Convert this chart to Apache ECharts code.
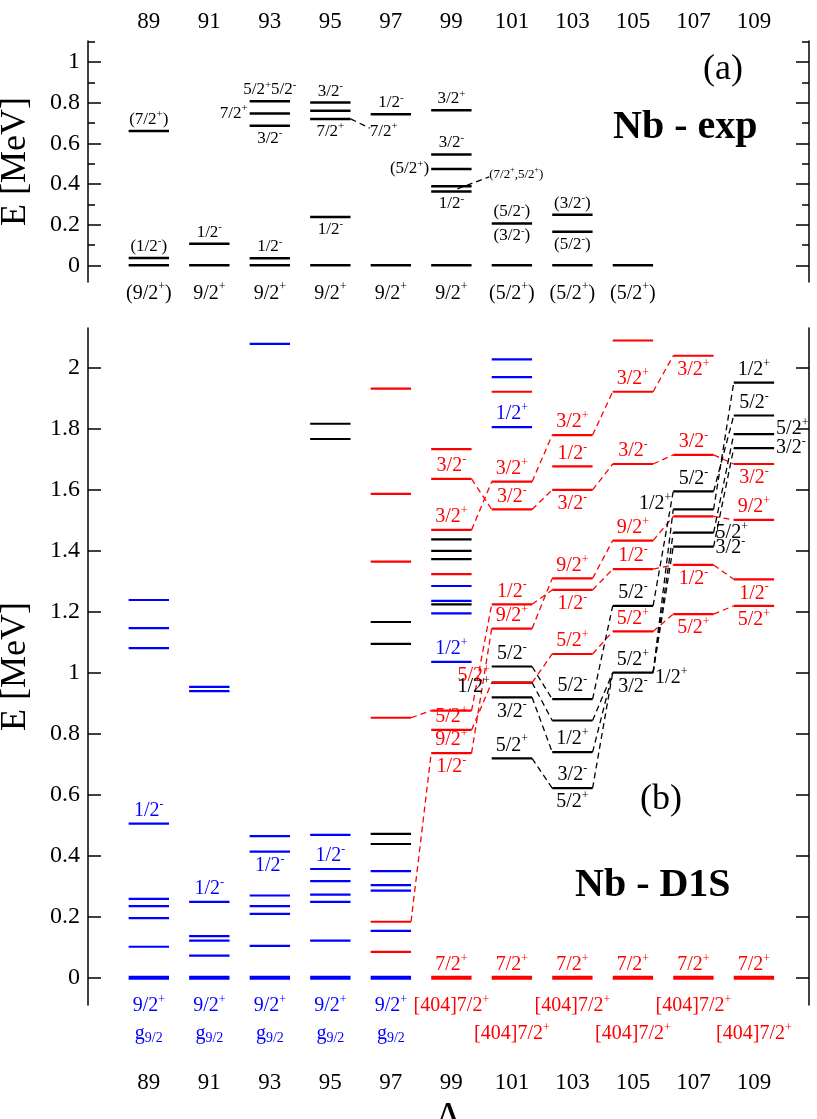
<!DOCTYPE html>
<html><head><meta charset="utf-8">
<script src="https://cdn.jsdelivr.net/npm/echarts@6/dist/echarts.min.js"></script>
<style>html,body{margin:0;padding:0;background:#fff}#c{width:817px;height:1119px}</style>
</head><body><div id="c"></div>
<script>
const massNumbers = [89,91,93,95,97,99,101,103,105,107,109];
const yTicksTop = [0,0.2,0.4,0.6,0.8,1];
// ---- panel (a) experiment ----
const expGround = [[89,0],[91,0],[93,0],[95,0],[97,0],[99,0],[101,0],[103,0],[105,0]];
const expLevels = [[89,0.036],[89,0.66],[91,0.106],[93,0.035],[93,0.686],[93,0.746],[93,0.807],
  [95,0.238],[95,0.72],[95,0.76],[95,0.80],[97,0.743],[99,0.363],[99,0.389],[99,0.474],[99,0.545],[99,0.762],
  [101,0.206],[103,0.165],[103,0.249]];
const expLeaders = [[95.67,0.72,96.3,0.675],[99.2,0.376,100.25,0.435]];
const expLabels = [[89,0.66,'(7/2^+)','above'],[89,0.036,'(1/2^-)','above'],[91,0.106,'1/2^-','above'],
  [93,0.035,'1/2^-','above'],[93,0.807,'5/2^+5/2^-','above'],[93,0.746,'7/2^+','left'],[93,0.686,'3/2^-','below'],
  [95,0.80,'3/2^-','above'],[95,0.72,'7/2^+','below'],[95,0.238,'1/2^-','below'],[96.3,0.66,'7/2^+','at'],
  [97,0.743,'1/2^-','above'],[99,0.762,'3/2^+','above'],[99,0.545,'3/2^-','above'],[99,0.474,'(5/2^+)','left'],
  [99,0.363,'1/2^-','below'],[101,0.206,'(5/2^-)','above'],[101,0.206,'(3/2^-)','below'],
  [103,0.249,'(3/2^-)','above'],[103,0.165,'(5/2^-)','below']];
const expSmallLabels = [[100.25,0.445,'(7/2^+,5/2^+)','at']];
const expGroundLabels = [[89,0,'(9/2^+)','under1'],[91,0,'9/2^+','under1'],[93,0,'9/2^+','under1'],[95,0,'9/2^+','under1'],
  [97,0,'9/2^+','under1'],[99,0,'9/2^+','under1'],[101,0,'(5/2^+)','under1'],[103,0,'(5/2^+)','under1'],[105,0,'(5/2^+)','under1']];
// ---- panel (b) D1S ----
const yTicksBottom = [0,0.2,0.4,0.6,0.8,1,1.2,1.4,1.6,1.8,2];
const blueGround = [[89,0],[91,0],[93,0],[95,0],[97,0]];
const redGround = [[99,0],[101,0],[103,0],[105,0],[107,0],[109,0]];
const blueLevels = [[89,0.102],[89,0.196],[89,0.235],[89,0.259],[89,0.506],[89,1.081],[89,1.147],[89,1.239],
  [91,0.073],[91,0.122],[91,0.137],[91,0.249],[91,0.94],[91,0.954],
  [93,0.105],[93,0.21],[93,0.235],[93,0.27],[93,0.414],[93,0.465],[93,2.079],
  [95,0.122],[95,0.249],[95,0.273],[95,0.317],[95,0.357],[95,0.469],
  [97,0.154],[97,0.286],[97,0.304],[97,0.35],
  [99,1.036],[99,1.195],[99,1.236],[99,1.285],[101,1.806],[101,1.97],[101,2.028]];
const redLevels = [[97,0.085],[97,0.184],[97,0.853],[97,1.365],[97,1.587],[97,1.932],
  [99,0.737],[99,0.813],[99,0.876],[99,1.324],[99,1.469],[99,1.636],[99,1.734],
  [101,0.968],[101,1.145],[101,1.225],[101,1.536],[101,1.627],[101,1.922],
  [103,1.062],[103,1.272],[103,1.31],[103,1.6],[103,1.677],[103,1.78],
  [105,1.136],[105,1.34],[105,1.434],[105,1.685],[105,1.922],[105,2.09],
  [107,1.193],[107,1.354],[107,1.513],[107,1.715],[107,2.04],
  [109,1.22],[109,1.307],[109,1.502],[109,1.685]];
const blackLevels = [[95,1.767],[95,1.817],[97,0.439],[97,0.472],[97,1.095],[97,1.167],
  [99,1.225],[99,1.373],[99,1.4],[99,1.438],[101,0.72],[101,0.92],[101,0.968],[101,1.021],
  [103,0.622],[103,0.74],[103,0.844],[103,0.914],[105,1.001],[105,1.22],
  [107,1.414],[107,1.46],[107,1.536],[107,1.595],[109,1.737],[109,1.783],[109,1.844],[109,1.952]];
const redLinks = [[97,0.184,99,0.737],[97,0.853,99,0.876],[99,0.737,101,1.145],[99,0.813,101,0.968],[99,0.876,101,1.225],
  [99,1.469,101,1.627],[101,1.627,103,1.78],[103,1.78,105,1.922],[105,1.922,107,2.04],
  [99,1.636,101,1.536],[101,1.536,103,1.6],[103,1.6,105,1.685],[105,1.685,107,1.715],[107,1.715,109,1.685],
  [101,1.145,103,1.31],[103,1.31,105,1.434],[105,1.434,107,1.513],[107,1.513,109,1.502],
  [101,1.225,103,1.272],[103,1.272,105,1.34],[105,1.34,107,1.354],[107,1.354,109,1.307],
  [101,0.968,103,1.062],[103,1.062,105,1.136],[105,1.136,107,1.193],[107,1.193,109,1.22]];
const blackLinks = [[101,1.021,103,0.914],[101,0.968,103,0.844],[101,0.92,103,0.74],[101,0.72,103,0.622],
  [103,0.914,105,1.22],[103,0.844,105,1.001],[103,0.74,105,1.001],[103,0.622,105,1.001],
  [105,1.22,107,1.595],[105,1.001,107,1.536],[105,1.001,107,1.46],[105,1.001,107,1.414],
  [107,1.595,109,1.844],[107,1.536,109,1.952],[107,1.46,109,1.783],[107,1.414,109,1.737]];
const blueLabels = [[89,0.506,'1/2^-','above'],[91,0.249,'1/2^-','above'],[93,0.414,'1/2^-','below'],
  [95,0.357,'1/2^-','above'],[99,1.036,'1/2^+','above'],[101,1.806,'1/2^+','above'],
  [89,0,'9/2^+','under1'],[91,0,'9/2^+','under1'],[93,0,'9/2^+','under1'],[95,0,'9/2^+','under1'],[97,0,'9/2^+','under1'],
  [89,0,'g_9/2','under2'],[91,0,'g_9/2','under2'],[93,0,'g_9/2','under2'],[95,0,'g_9/2','under2'],[97,0,'g_9/2','under2']];
const redLabels = [[99,1.636,'3/2^-','above'],[99,1.469,'3/2^+','above'],[99,0.813,'5/2^+','above'],[99,0.737,'9/2^+','above'],
  [99,0.737,'1/2^-','below'],[101,0.99,'5/2^+','left'],
  [101,1.627,'3/2^+','above'],[101,1.536,'3/2^-','above'],[101,1.225,'1/2^-','above'],[101,1.145,'9/2^+','above'],
  [103,1.78,'3/2^+','above'],[103,1.677,'1/2^-','above'],[103,1.6,'3/2^-','below'],[103,1.31,'9/2^+','above'],
  [103,1.272,'1/2^-','below'],[103,1.062,'5/2^+','above'],
  [105,1.922,'3/2^+','above'],[105,1.685,'3/2^-','above'],[105,1.434,'9/2^+','above'],[105,1.34,'1/2^-','above'],[105,1.136,'5/2^+','above'],
  [107,2.04,'3/2^+','below'],[107,1.715,'3/2^-','above'],[107,1.354,'1/2^-','below'],[107,1.193,'5/2^+','below'],
  [109,1.685,'3/2^-','below'],[109,1.502,'9/2^+','above'],[109,1.307,'1/2^-','below'],[109,1.22,'5/2^+','below'],
  [99,0,'7/2^+','above'],[101,0,'7/2^+','above'],[103,0,'7/2^+','above'],[105,0,'7/2^+','above'],[107,0,'7/2^+','above'],[109,0,'7/2^+','above'],
  [99,0,'[404]7/2^+','under1'],[103,0,'[404]7/2^+','under1'],[107,0,'[404]7/2^+','under1'],
  [101,0,'[404]7/2^+','under2'],[105,0,'[404]7/2^+','under2'],[109,0,'[404]7/2^+','under2']];
const blackLabels = [[101,1.021,'5/2^-','above'],[101,0.955,'1/2^+','left'],[101,0.92,'3/2^-','below'],[101,0.72,'5/2^+','above'],
  [103,0.914,'5/2^-','above'],[103,0.74,'1/2^+','above'],[103,0.622,'3/2^-','above'],[103,0.622,'5/2^+','below'],
  [105,1.22,'5/2^-','above'],[105,1.001,'5/2^+','above'],[105,1.001,'3/2^-','below'],[105,0.985,'1/2^+','right'],
  [107,1.595,'5/2^-','above'],[107,1.555,'1/2^+','left'],[107,1.46,'5/2^+','right'],[107,1.41,'3/2^-','right'],
  [109,1.952,'1/2^+','above'],[109,1.844,'5/2^-','above'],[109,1.80,'5/2^+','right'],[109,1.737,'3/2^-','right']];

const HW = 0.667;
const FONT = '"Liberation Serif","DejaVu Serif",serif';
const BLUE = '#0000ff', RED = '#ff0000', BLACK = '#000000';

function rich(s){
  return s.replace(/\^([+-])/g,'{s|$1}').replace(/_(\S+)$/,'{b|$1}');
}
function levelSeries(gi, data, color, w){
  return {type:'custom', xAxisIndex:gi, yAxisIndex:gi*2, clip:false, silent:true, data:data,
    renderItem:(p,api)=>{const a=api.value(0), e=api.value(1);
      const p1=api.coord([a-HW,e]), p2=api.coord([a+HW,e]);
      return {type:'line', shape:{x1:p1[0],y1:p1[1],x2:p2[0],y2:p2[1]}, style:{stroke:color,lineWidth:w}};}};
}
function linkSeries(gi, data, color, full){
  return {type:'custom', xAxisIndex:gi, yAxisIndex:gi*2, clip:false, silent:true, data:data,
    renderItem:(p,api)=>{const d=data[p.dataIndex];
      const p1=api.coord(full?[d[0],d[1]]:[d[0]+HW,d[1]]), p2=api.coord(full?[d[2],d[3]]:[d[2]-HW,d[3]]);
      return {type:'line', shape:{x1:p1[0],y1:p1[1],x2:p2[0],y2:p2[1]}, style:{stroke:color,lineWidth:1.3,lineDash:[6,4]}};}};
}
function labelSeries(gi, data, color, fs){
  return {type:'custom', xAxisIndex:gi, yAxisIndex:gi*2, clip:false, silent:true, data:data.map(d=>[d[0],d[1]]),
    renderItem:(p,api)=>{const d=data[p.dataIndex];
      const c=api.coord([d[0],d[1]]); let x=c[0], y=c[1], align='center', va='bottom';
      const pos=d[3];
      if(pos==='above'){y-=1;}
      else if(pos==='below'){y+=2;va='top';}
      else if(pos==='left'){x=api.coord([d[0]-HW,d[1]])[0]-2;align='right';va='middle';}
      else if(pos==='right'){x=api.coord([d[0]+HW,d[1]])[0]+2;align='left';va='middle';}
      else if(pos==='at'){align='left';va='middle';}
      else if(pos==='under1'){y+=16;va='top';}
      else if(pos==='under2'){y+=44;va='top';}
      return {type:'text', x:x, y:y, style:{text:rich(d[2]), fill:color, align:align, verticalAlign:va,
        fontFamily:FONT, fontSize:fs, lineHeight:fs+4,
        rich:{s:{fontSize:Math.round(fs*0.62), verticalAlign:'top', fill:color, fontFamily:FONT, lineHeight:fs+4, padding:[0,0,fs*0.5,0]},
              b:{fontSize:Math.round(fs*0.72), fill:color, fontFamily:FONT, padding:[fs*0.45,0,0,0]}}}};}};
}
function yAx(gi, ticks, min, max, left, minor){
  return {type:'value', gridIndex:gi, min:min, max:max, position:left?'left':'right',
    axisLine:{show:true, lineStyle:{color:'#000',width:1.5}},
    axisTick:{show:true, inside:true, length:13, customValues:ticks, lineStyle:{color:'#000',width:1.5}},
    minorTick:{show:minor, splitNumber:2, length:7, lineStyle:{color:'#000',width:1.5}},
    splitLine:{show:false},
    axisLabel:{show:left, customValues:ticks, fontFamily:FONT, fontSize:24, color:'#000', margin:8},
    name:left?'E [MeV]':'', nameLocation:'middle', nameGap:54, nameRotate:90,
    nameTextStyle:{fontFamily:FONT, fontSize:36, color:'#000'}};
}
const xMin = 86.99, xMax = 110.82;
const option = {
  animation:false,
  grid:[{left:88,right:8,top:41,height:241,containLabel:false,outerBoundsMode:'none'},
        {left:88,right:8,top:328,height:677,containLabel:false,outerBoundsMode:'none'}],
  xAxis:[
    {type:'value', gridIndex:0, min:xMin, max:xMax, position:'top', axisLine:{show:false}, axisTick:{show:false}, splitLine:{show:false},
     axisLabel:{customValues:massNumbers, fontFamily:FONT, fontSize:23, color:'#000', margin:8}},
    {type:'value', gridIndex:1, min:xMin, max:xMax, position:'bottom', axisLine:{show:false}, axisTick:{show:false}, splitLine:{show:false},
     axisLabel:{customValues:massNumbers, fontFamily:FONT, fontSize:23, color:'#000', margin:66},
     name:'A', nameLocation:'middle', nameGap:92, nameTextStyle:{fontFamily:FONT, fontSize:42, color:'#000'}}
  ],
  yAxis:[yAx(0,yTicksTop,-0.082,1.103,true,true), yAx(0,yTicksTop,-0.082,1.103,false,true),
         yAx(1,yTicksBottom,-0.089,2.131,true,false), yAx(1,yTicksBottom,-0.089,2.131,false,false)],
  graphic:[
    {type:'text', left:703, top:52, style:{text:'(a)', fontFamily:FONT, fontSize:36, fill:'#000'}},
    {type:'text', left:613, top:108, style:{text:'Nb - exp', fontFamily:FONT, fontSize:40, fontWeight:'bold', fill:'#000'}},
    {type:'text', left:640, top:782, style:{text:'(b)', fontFamily:FONT, fontSize:36, fill:'#000'}},
    {type:'text', left:575, top:866, style:{text:'Nb - D1S', fontFamily:FONT, fontSize:40, fontWeight:'bold', fill:'#000'}}
  ],
  series:[
    levelSeries(0, expGround, BLACK, 2.5), levelSeries(0, expLevels, BLACK, 2.5),
    linkSeries(0, expLeaders, BLACK, true),
    labelSeries(0, expLabels, BLACK, 17), labelSeries(0, expSmallLabels, BLACK, 13), labelSeries(0, expGroundLabels, BLACK, 20),
    linkSeries(1, redLinks, RED, false), linkSeries(1, blackLinks, BLACK, false),
    levelSeries(1, blueGround, BLUE, 4), levelSeries(1, redGround, RED, 4),
    levelSeries(1, blueLevels, BLUE, 2.2), levelSeries(1, blackLevels, BLACK, 2.2), levelSeries(1, redLevels, RED, 2.2),
    labelSeries(1, blueLabels, BLUE, 20), labelSeries(1, redLabels, RED, 20), labelSeries(1, blackLabels, BLACK, 20)
  ]
};
echarts.init(document.getElementById('c')).setOption(option);
</script></body></html>
